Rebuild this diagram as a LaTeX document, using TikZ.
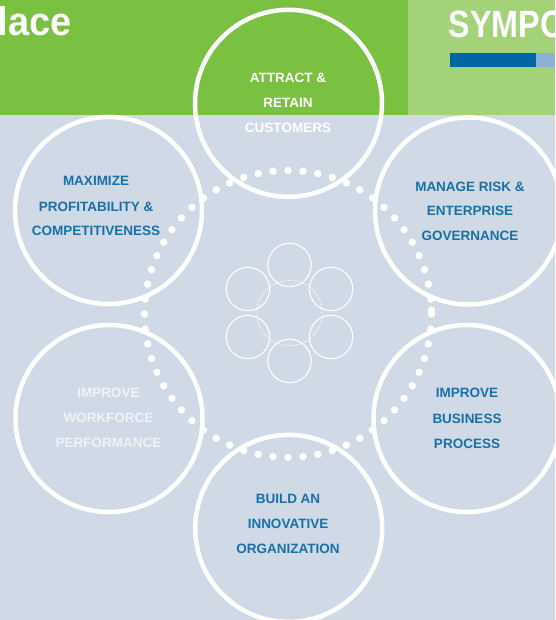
\documentclass[tikz,border=0pt]{standalone}
\usepackage{fontspec}
\usepackage{graphicx}
\setmainfont{Liberation Sans}
\definecolor{bgc}{RGB}{208,217,230}
\definecolor{dgreen}{RGB}{122,193,66}
\definecolor{lgreen}{RGB}{164,210,120}
\definecolor{bardark}{RGB}{0,102,164}
\definecolor{barlight}{RGB}{141,176,214}
\definecolor{tblue}{RGB}{22,112,170}
\definecolor{tpale}{RGB}{240,243,248}
\tikzset{
  bigring/.style={draw=white, line width=4.5pt},
  smallring/.style={draw=white, line width=1.1pt},
  lbl/.style={font=\bfseries\fontsize{13.5}{16}\selectfont, inner sep=0pt, anchor=base},
  blbl/.style={lbl, text=tblue},
  wlbl/.style={lbl, text=white},
  plbl/.style={lbl, text=tpale},
  titletxt/.style={font=\bfseries\fontsize{38}{40}\selectfont, text=white, inner sep=0pt, anchor=base west},
}
\begin{document}
\begin{tikzpicture}[x=1pt,y=-1pt]
\useasboundingbox (0,0) rectangle (555,620);
% backgrounds
\fill[bgc] (0,0) rectangle (555,620);
\fill[dgreen] (0,0) rectangle (407.5,115);
\fill[lgreen] (407.5,0) rectangle (555,115);
\fill[bardark] (450,52.7) rectangle (536,66.7);
\fill[barlight] (536,52.7) rectangle (555,66.7);
\node[titletxt] (lace) at (-2.2,35.5) {\scalebox{1}[1.05]{lace}};
\node[titletxt] (sympo) at (448.4,37.3) {\scalebox{0.85}[1]{SYMPO}};
% centres
\coordinate (ctop) at (288.5,103.3);
\coordinate (ctl) at (108.5,210.5);
\coordinate (ctr) at (468.5,211);
\coordinate (cbl) at (109,418.5);
\coordinate (cbr) at (467,418.5);
\coordinate (cbot) at (288.7,528.4);
\coordinate (ring) at (288,314);
\coordinate (icon) at (289.5,313);
% dotted ring
\foreach \a in {0,6,...,354} {
  \fill[white] (ring) ++(\a:143.5pt) circle[radius=3.7pt];
}
\fill[white] (ring) ++(1.5:143.5pt) circle[radius=3.7pt];
% big circles
\foreach \c in {ctop,ctl,ctr,cbl,cbr,cbot} {
  \draw[bigring] (\c) circle[radius=93.5pt];
}
% central icon
\draw[white, line width=1.1pt, dash pattern=on 1pt off 1.6pt] (icon) circle[radius=32.7pt];
\foreach \a in {90,30,-30,-90,-150,150} {
  \draw[smallring] (icon) ++(\a:48pt) circle[radius=21.7pt];
}
% labels
\node[wlbl] (t1) at (288,82.9) {ATTRACT \&};
\node[wlbl] (t2) at (288,107.9) {RETAIN};
\node[wlbl] (t3) at (288,132.9) {CUSTOMERS};
\node[blbl] (tl1) at (96,185.9) {MAXIMIZE};
\node[blbl] (tl2) at (96,211.9) {PROFITABILITY \&};
\node[blbl] (tl3) at (96,235.9) {COMPETITIVENESS};
\node[blbl] (tr1) at (470,191.9) {MANAGE RISK \&};
\node[blbl] (tr2) at (470,215.9) {ENTERPRISE};
\node[blbl] (tr3) at (470,240.9) {GOVERNANCE};
\node[plbl] (bl1) at (108.5,397.9) {IMPROVE};
\node[plbl] (bl2) at (108.5,422.9) {WORKFORCE};
\node[plbl] (bl3) at (108.5,447.9) {PERFORMANCE};
\node[blbl] (br1) at (467,397.6) {IMPROVE};
\node[blbl] (br2) at (467,423.2) {BUSINESS};
\node[blbl] (br3) at (467,448.9) {PROCESS};
\node[blbl] (b1) at (288,503.9) {BUILD AN};
\node[blbl] (b2) at (288,528.9) {INNOVATIVE};
\node[blbl] (b3) at (288,553.9) {ORGANIZATION};
\end{tikzpicture}
\end{document}
